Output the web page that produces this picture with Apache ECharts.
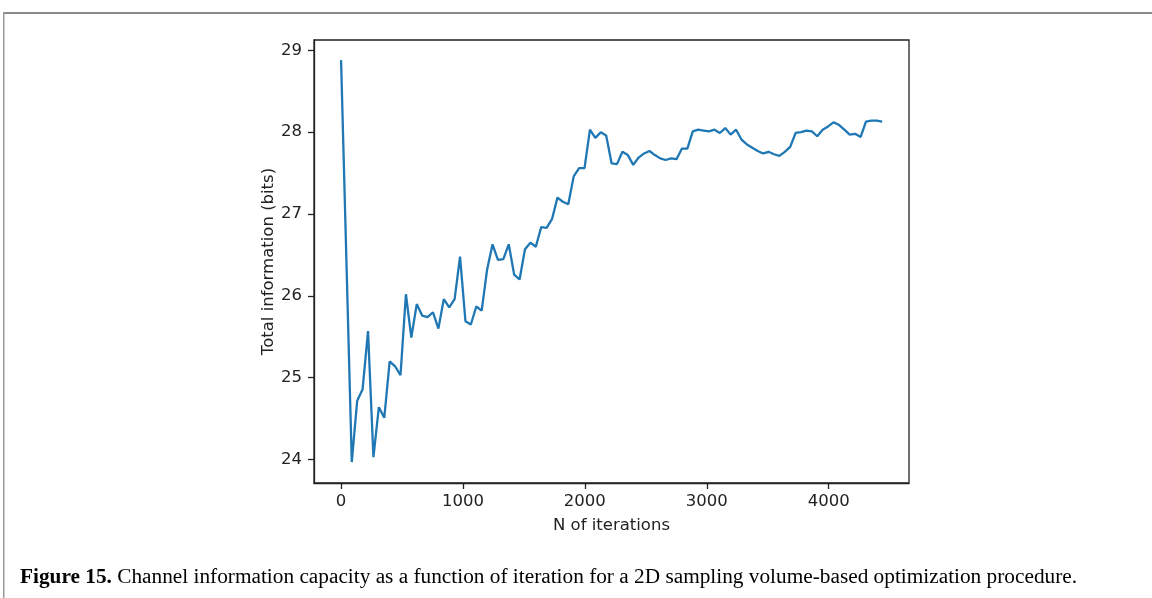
<!DOCTYPE html>
<html>
<head>
<meta charset="utf-8">
<script src="https://cdn.jsdelivr.net/npm/echarts@6/dist/echarts.min.js"></script>
<style>
  html, body { margin: 0; padding: 0; background: #fff; }
  #chart { width: 1152px; height: 598px; }
</style>
</head>
<body>
<div id="chart"></div>
<script>
// iterations: first sample at 0, the rest logged every ~44 iterations
var firstIter = 0;
var iterStart = 88;
var iterStep = 44.4;

// total information (bits)
var totalInfo = [
  28.88, 23.97, 24.72, 24.86, 25.57, 24.03, 24.64, 24.51, 25.20, 25.14,
  25.03, 26.02, 25.49, 25.90, 25.76, 25.74, 25.80, 25.60, 25.96, 25.86,
  25.96, 26.48, 25.69, 25.65, 25.87, 25.82, 26.32, 26.63, 26.44, 26.45,
  26.63, 26.26, 26.20, 26.57, 26.65, 26.60, 26.84, 26.83, 26.94, 27.20,
  27.15, 27.12, 27.46, 27.56, 27.56, 28.03, 27.93, 28.00, 27.96, 27.62,
  27.61, 27.76, 27.72, 27.60, 27.69, 27.74, 27.77, 27.72, 27.68, 27.66,
  27.68, 27.67, 27.80, 27.80, 28.01, 28.03, 28.02, 28.01, 28.03, 27.99,
  28.05, 27.97, 28.03, 27.91, 27.85, 27.81, 27.77, 27.74, 27.76, 27.73,
  27.71, 27.76, 27.82, 27.99, 28.00, 28.02, 28.01, 27.95, 28.03, 28.07,
  28.12, 28.09, 28.03, 27.97, 27.98, 27.94, 28.13, 28.14, 28.14, 28.13
];

var xTicks = [0, 1000, 2000, 3000, 4000];
var yTicks = [24, 25, 26, 27, 28, 29];

var points = totalInfo.map(function (v, i) {
  return [i === 0 ? firstIter : iterStart + (i - 1) * iterStep, v];
});

var ink = '#222';
var tickFont = {fontFamily: 'DejaVu Sans', fontSize: 16.5, color: ink};

var chart = echarts.init(document.getElementById('chart'));
chart.setOption({
  animation: false,
  backgroundColor: '#fff',
  grid: {left: 314, top: 40, width: 595, height: 443, show: true, borderColor: ink, borderWidth: 1.3},
  xAxis: {
    type: 'value',
    min: -222,
    max: 4659,
    name: 'N of iterations',
    nameLocation: 'middle',
    nameGap: 34,
    nameMoveOverlap: false,
    nameTextStyle: tickFont,
    axisLine: {show: true, onZero: false, lineStyle: {color: ink, width: 1.3}},
    axisTick: {show: true, inside: false, length: 6, customValues: xTicks, lineStyle: {color: ink, width: 1.3}},
    axisLabel: Object.assign({customValues: xTicks, margin: 10, formatter: function (v) { return String(v); }}, tickFont),
    splitLine: {show: false}
  },
  yAxis: {
    type: 'value',
    min: 23.714,
    max: 29.126,
    name: 'Total information (bits)',
    nameLocation: 'middle',
    nameGap: 37,
    nameMoveOverlap: false,
    nameTextStyle: tickFont,
    axisLine: {show: true, onZero: false, lineStyle: {color: ink, width: 1.3}},
    axisTick: {show: true, inside: false, length: 6, customValues: yTicks, lineStyle: {color: ink, width: 1.3}},
    axisLabel: Object.assign({customValues: yTicks, margin: 12, formatter: function (v) { return String(v); }}, tickFont),
    splitLine: {show: false}
  },
  series: [{
    type: 'line',
    data: points,
    symbol: 'none',
    lineStyle: {color: '#1f77b4', width: 2.3},
    silent: true
  }],
  graphic: [
    // page frame
    {type: 'rect', shape: {x: 3, y: 12, width: 1149, height: 2}, style: {fill: '#8a8a8a'}, silent: true},
    {type: 'rect', shape: {x: 3, y: 12, width: 1.5, height: 586}, style: {fill: '#9a9a9a'}, silent: true},
    // caption
    {
      type: 'text',
      left: 20,
      top: 567,
      style: {
        text: '{b|Figure 15.} Channel information capacity as a function of iteration for a 2D sampling volume-based optimization procedure.',
        fontFamily: 'Liberation Serif',
        fontSize: 21.3,
        fill: '#000',
        rich: {b: {fontFamily: 'Liberation Serif', fontSize: 21.3, fontWeight: 'bold', fill: '#000'}}
      }
    }
  ]
});
</script>
</body>
</html>
